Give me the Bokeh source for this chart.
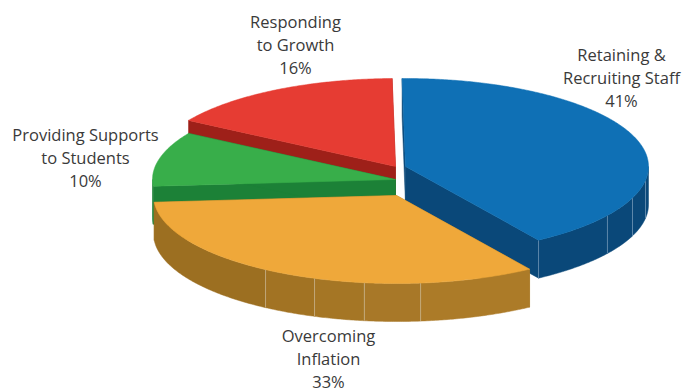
import numpy as np
from bokeh.core.properties import value
from bokeh.embed import file_html
from bokeh.models import ColumnDataSource, Range1d
from bokeh.plotting import figure
from bokeh.resources import INLINE

# Survey shares, in drawing order around the pie
categories = ["Retaining & Recruiting Staff", "Overcoming Inflation",
              "Providing Supports to Students", "Responding to Growth"]
shares = [41, 33, 10, 16]

# Label lines per category
label_lines = [["Retaining &", "Recruiting Staff", "41%"],
               ["Overcoming", "Inflation", "33%"],
               ["Providing Supports", "to Students", "10%"],
               ["Responding", "to Growth", "16%"]]
label_x = [621, 328, 85, 295]
label_y = [54, 335, 134, 21]

# Appearance and projection of the tilted pie
top_colors = ["#0f70b5", "#efa83a", "#38ae4a", "#e63c33"]
side_colors = ["#0a4879", "#a87a27", "#1c8137", "#9e2019"]
centers_x = [405, 396, 395, 395]
centers_y = [166, 195, 179, 166]
RX, RY, DEPTH = 243, 88, 38
START_ANGLE = -90.8

# Panel divisions on the outer wall, as angles around the ellipse
wall_seams = [[9, 20.9, 33.8], [84.3, 97.6, 109.7, 122.6], [], []]
wall_shades = [
    ["#0a4879"] * 4,
    ["#ac7b28", "#a87828", "#a57625", "#a27323", "#9c6f21"],
    ["#1c8137"],
    ["#9e2019"],
]
SEAM = "#c9b58f"
SEAM_BLUE = "#6f94b5"

TEXT_FONT = "Open Sans"
TEXT_COLOR = "#3a3a3a"
TEXT_SIZE = "16.5px"

p = figure(width=683, height=389, x_range=Range1d(0, 683), y_range=Range1d(389, 0),
           output_backend="svg", toolbar_location=None, min_border=0)
p.axis.visible = False
p.grid.visible = False
p.outline_line_color = None
p.background_fill_color = "white"


def rim(cx, cy, deg):
    t = np.radians(deg)
    return cx + RX * np.cos(t), cy + RY * np.sin(t)


def arc(a0, a1):
    return np.linspace(a0, a1, max(3, int(abs(a1 - a0) * 2)))


bounds = START_ANGLE + np.concatenate([[0], np.cumsum(shares)]) * 3.6
spans = list(zip(bounds[:-1], bounds[1:]))

# Back-to-front: blue, red, green, orange
for i in [0, 3, 2, 1]:
    a0, a1 = spans[i]
    cx, cy = centers_x[i], centers_y[i]

    # Flat cut faces along both radial edges
    for edge in (a0, a1):
        ex, ey = rim(cx, cy, edge)
        p.patch([cx, ex, ex, cx], [cy, ey, ey + DEPTH, cy + DEPTH],
                fill_color=side_colors[i], line_color=side_colors[i], line_width=0.5)

    # Outer wall, only on the near half
    lo, hi = max(a0, 0), min(a1, 180)
    if hi > lo:
        stops = [lo] + [s for s in wall_seams[i] if lo < s < hi] + [hi]
        for k, (s0, s1) in enumerate(zip(stops[:-1], stops[1:])):
            xs, ys = rim(cx, cy, arc(s0, s1))
            p.patch(np.r_[xs, xs[::-1]], np.r_[ys, ys[::-1] + DEPTH],
                    fill_color=wall_shades[i][k], line_color=wall_shades[i][k], line_width=0.5)
        seam_color = SEAM_BLUE if i == 0 else SEAM
        for s in stops[1:-1] + ([a1] if i == 0 else []):
            sx, sy = rim(cx, cy, s)
            p.line([sx, sx], [sy, sy + DEPTH], line_color=seam_color, line_width=0.8)

    # Top surface
    xs, ys = rim(cx, cy, arc(a0, a1))
    p.patch(np.r_[cx, xs], np.r_[cy, ys], fill_color=top_colors[i],
            line_color=top_colors[i], line_width=0.5)

# Text labels, one centred line at a time
LINE_STEP = 23
tx, ty, tt = [], [], []
for lines, lx, ly in zip(label_lines, label_x, label_y):
    for j, line in enumerate(lines):
        tx.append(lx)
        ty.append(ly + j * LINE_STEP)
        tt.append(line)
p.text("x", "y", text="t", source=ColumnDataSource(dict(x=tx, y=ty, t=tt)),
       text_font=value(TEXT_FONT), text_font_size=value(TEXT_SIZE), text_color=TEXT_COLOR,
       text_align="center", text_baseline="middle")

open("out.html", "w").write(file_html(p, INLINE))
